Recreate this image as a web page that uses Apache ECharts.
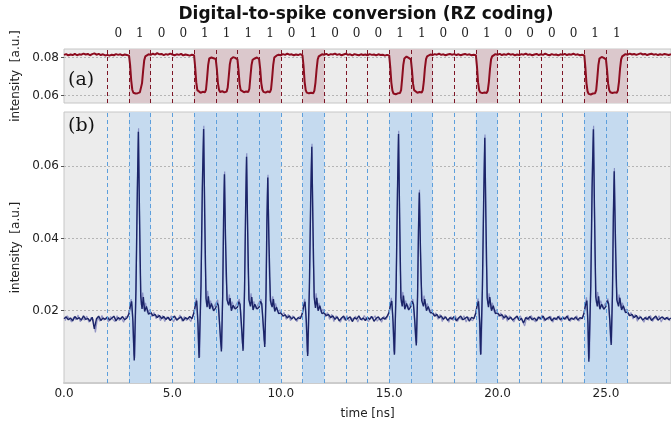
<!DOCTYPE html>
<html>
<head>
<meta charset="utf-8">
<script src="https://cdn.jsdelivr.net/npm/echarts@6/dist/echarts.min.js"></script>
<style>
  html, body { margin: 0; padding: 0; background: #fff; }
  #chart { width: 671px; height: 425px; }
</style>
</head>
<body>
<div id="chart"></div>
<script>
// bit sequence, one bit per 1 ns slot starting at 2 ns
const bits = [0, 1, 0, 0, 1, 1, 1, 1, 0, 1, 0, 0, 0, 1, 1, 0, 0, 1, 0, 0, 0, 0, 1, 1]
const firstSlot = 2

const timeLabels = [0, 5, 10, 15, 20, 25]
const topTicks = [0.06, 0.08]
const bottomTicks = [0.02, 0.04, 0.06]

// (a) optical intensity, RZ input [ns, a.u.]
const redTrace = [
  [0.0, 0.0814], [0.1, 0.0818], [0.2, 0.0811], [0.3, 0.0816], [0.4, 0.0813], [0.5, 0.0819], [0.6, 0.0812], [0.7, 0.0817], [0.8, 0.0815], [0.9, 0.0821],
  [1.0, 0.0816], [1.1, 0.0819], [1.2, 0.0812], [1.3, 0.0818], [1.4, 0.0822], [1.5, 0.0815], [1.6, 0.0819], [1.7, 0.0813], [1.8, 0.0817], [1.9, 0.0811],
  [2.0, 0.0814], [2.1, 0.0810], [2.2, 0.0815], [2.3, 0.0812], [2.4, 0.0818], [2.5, 0.0814], [2.6, 0.0817], [2.7, 0.0811], [2.8, 0.0816], [2.9, 0.0813], [3.0, 0.0810],
  [3.05, 0.0760], [3.1, 0.0680], [3.15, 0.0630], [3.2, 0.0614], [3.3, 0.0610], [3.4, 0.0612], [3.5, 0.0616], [3.55, 0.0625], [3.6, 0.0665], [3.65, 0.0730], [3.7, 0.0785], [3.75, 0.0806], [3.8, 0.0812], [3.9, 0.0817], [4.0, 0.0814],
  [4.1, 0.0820], [4.2, 0.0815], [4.3, 0.0823], [4.4, 0.0817], [4.5, 0.0819], [4.6, 0.0813], [4.7, 0.0818], [4.8, 0.0815], [4.9, 0.0821], [5.0, 0.0816],
  [5.1, 0.0812], [5.2, 0.0817], [5.3, 0.0814], [5.4, 0.0819], [5.5, 0.0811], [5.6, 0.0816], [5.7, 0.0813], [5.8, 0.0810], [5.9, 0.0815], [6.0, 0.0812],
  [6.05, 0.0750], [6.1, 0.0670], [6.15, 0.0628], [6.2, 0.0618], [6.3, 0.0614], [6.4, 0.0619], [6.5, 0.0616], [6.55, 0.0630], [6.6, 0.0690], [6.65, 0.0760], [6.7, 0.0795], [6.8, 0.0800], [6.9, 0.0796], [7.0, 0.0792],
  [7.05, 0.0740], [7.1, 0.0665], [7.15, 0.0630], [7.2, 0.0618], [7.3, 0.0622], [7.4, 0.0616], [7.5, 0.0620], [7.55, 0.0640], [7.6, 0.0700], [7.65, 0.0765], [7.7, 0.0792], [7.8, 0.0802], [7.9, 0.0798], [8.0, 0.0790],
  [8.05, 0.0735], [8.1, 0.0660], [8.15, 0.0628], [8.2, 0.0620], [8.3, 0.0617], [8.4, 0.0621], [8.5, 0.0618], [8.55, 0.0635], [8.6, 0.0700], [8.65, 0.0760], [8.7, 0.0788], [8.8, 0.0795], [8.9, 0.0800], [9.0, 0.0792],
  [9.05, 0.0740], [9.1, 0.0665], [9.15, 0.0630], [9.2, 0.0619], [9.3, 0.0615], [9.4, 0.0621], [9.5, 0.0617], [9.55, 0.0632], [9.6, 0.0690], [9.65, 0.0760], [9.7, 0.0800], [9.8, 0.0810], [9.9, 0.0815], [10.0, 0.0812],
  [10.1, 0.0818], [10.2, 0.0814], [10.3, 0.0820], [10.4, 0.0815], [10.5, 0.0817], [10.6, 0.0812], [10.7, 0.0816], [10.8, 0.0813], [10.9, 0.0818], [11.0, 0.0812],
  [11.05, 0.0755], [11.1, 0.0672], [11.15, 0.0628], [11.2, 0.0615], [11.3, 0.0611], [11.4, 0.0614], [11.5, 0.0612], [11.55, 0.0625], [11.6, 0.0668], [11.65, 0.0735], [11.7, 0.0788], [11.75, 0.0806], [11.8, 0.0813], [11.9, 0.0817], [12.0, 0.0815],
  [12.1, 0.0819], [12.2, 0.0813], [12.3, 0.0818], [12.4, 0.0816], [12.5, 0.0821], [12.6, 0.0814], [12.7, 0.0818], [12.8, 0.0812], [12.9, 0.0816], [13.0, 0.0820],
  [13.1, 0.0814], [13.2, 0.0817], [13.3, 0.0811], [13.4, 0.0818], [13.5, 0.0815], [13.6, 0.0812], [13.7, 0.0817], [13.8, 0.0813], [13.9, 0.0816], [14.0, 0.0812],
  [14.1, 0.0818], [14.2, 0.0814], [14.3, 0.0816], [14.4, 0.0811], [14.5, 0.0817], [14.6, 0.0813], [14.7, 0.0815], [14.8, 0.0810], [14.9, 0.0814], [15.0, 0.0811],
  [15.05, 0.0750], [15.1, 0.0668], [15.15, 0.0625], [15.2, 0.0610], [15.3, 0.0606], [15.4, 0.0611], [15.5, 0.0613], [15.55, 0.0628], [15.6, 0.0690], [15.65, 0.0760], [15.7, 0.0795], [15.8, 0.0805], [15.9, 0.0798], [16.0, 0.0790],
  [16.05, 0.0735], [16.1, 0.0662], [16.15, 0.0628], [16.2, 0.0618], [16.3, 0.0614], [16.4, 0.0618], [16.5, 0.0615], [16.55, 0.0628], [16.6, 0.0675], [16.65, 0.0745], [16.7, 0.0792], [16.75, 0.0806], [16.8, 0.0812], [16.9, 0.0816], [17.0, 0.0813],
  [17.1, 0.0818], [17.2, 0.0815], [17.3, 0.0820], [17.4, 0.0814], [17.5, 0.0817], [17.6, 0.0812], [17.7, 0.0816], [17.8, 0.0819], [17.9, 0.0815], [18.0, 0.0818],
  [18.1, 0.0813], [18.2, 0.0817], [18.3, 0.0812], [18.4, 0.0816], [18.5, 0.0819], [18.6, 0.0814], [18.7, 0.0817], [18.8, 0.0812], [18.9, 0.0815], [19.0, 0.0812],
  [19.05, 0.0752], [19.1, 0.0670], [19.15, 0.0628], [19.2, 0.0616], [19.3, 0.0612], [19.4, 0.0615], [19.5, 0.0613], [19.55, 0.0626], [19.6, 0.0672], [19.65, 0.0740], [19.7, 0.0790], [19.75, 0.0806], [19.8, 0.0812], [19.9, 0.0818], [20.0, 0.0815],
  [20.1, 0.0819], [20.2, 0.0813], [20.3, 0.0817], [20.4, 0.0814], [20.5, 0.0820], [20.6, 0.0815], [20.7, 0.0818], [20.8, 0.0812], [20.9, 0.0816], [21.0, 0.0813],
  [21.1, 0.0818], [21.2, 0.0815], [21.3, 0.0821], [21.4, 0.0814], [21.5, 0.0817], [21.6, 0.0812], [21.7, 0.0816], [21.8, 0.0819], [21.9, 0.0813], [22.0, 0.0817],
  [22.1, 0.0814], [22.2, 0.0820], [22.3, 0.0815], [22.4, 0.0812], [22.5, 0.0818], [22.6, 0.0814], [22.7, 0.0816], [22.8, 0.0811], [22.9, 0.0817], [23.0, 0.0814],
  [23.1, 0.0819], [23.2, 0.0813], [23.3, 0.0817], [23.4, 0.0815], [23.5, 0.0820], [23.6, 0.0814], [23.7, 0.0817], [23.8, 0.0812], [23.9, 0.0815], [24.0, 0.0811],
  [24.05, 0.0748], [24.1, 0.0665], [24.15, 0.0622], [24.2, 0.0608], [24.3, 0.0605], [24.4, 0.0610], [24.5, 0.0612], [24.55, 0.0628], [24.6, 0.0690], [24.65, 0.0760], [24.7, 0.0795], [24.8, 0.0803], [24.9, 0.0798], [25.0, 0.0790],
  [25.05, 0.0735], [25.1, 0.0662], [25.15, 0.0628], [25.2, 0.0617], [25.3, 0.0613], [25.4, 0.0616], [25.5, 0.0614], [25.55, 0.0627], [25.6, 0.0672], [25.65, 0.0742], [25.7, 0.0790], [25.75, 0.0806], [25.8, 0.0813], [25.9, 0.0818], [26.0, 0.0815],
  [26.1, 0.0821], [26.2, 0.0816], [26.3, 0.0819], [26.4, 0.0814], [26.5, 0.0818], [26.6, 0.0822], [26.7, 0.0816], [26.8, 0.0819], [26.9, 0.0813], [27.0, 0.0817],
  [27.1, 0.0820], [27.2, 0.0815], [27.3, 0.0818], [27.4, 0.0813], [27.5, 0.0817], [27.6, 0.0814], [27.7, 0.0819], [27.8, 0.0816], [27.9, 0.0813], [28.0, 0.0817]
]

// (b) spike output, main trace [ns, a.u.]
const blueTrace = [
  [0.0, 0.0178], [0.1, 0.0183], [0.2, 0.0175], [0.3, 0.0180], [0.4, 0.0172], [0.5, 0.0184], [0.6, 0.0177], [0.7, 0.0181], [0.8, 0.0174], [0.9, 0.0186],
  [1.0, 0.0176], [1.1, 0.0179], [1.2, 0.0171], [1.3, 0.0182], [1.4, 0.0150], [1.5, 0.0178], [1.6, 0.0185], [1.7, 0.0173], [1.8, 0.0180], [1.9, 0.0176],
  [2.0, 0.0183], [2.1, 0.0174], [2.2, 0.0179], [2.3, 0.0185], [2.4, 0.0172], [2.5, 0.0181], [2.6, 0.0177], [2.7, 0.0184], [2.8, 0.0175], [2.9, 0.0180],
  [3.0, 0.0192], [3.05, 0.0210], [3.12, 0.0226], [3.18, 0.0170], [3.24, 0.0062], [3.32, 0.0260], [3.38, 0.0520], [3.43, 0.0695], [3.48, 0.0480], [3.54, 0.0240], [3.6, 0.0205], [3.66, 0.0238], [3.72, 0.0198], [3.8, 0.0212], [3.9, 0.0190],
  [4.0, 0.0196], [4.1, 0.0186], [4.2, 0.0190], [4.3, 0.0181], [4.4, 0.0187], [4.5, 0.0178], [4.6, 0.0184], [4.7, 0.0176], [4.8, 0.0182], [4.9, 0.0173],
  [5.0, 0.0180], [5.1, 0.0185], [5.2, 0.0174], [5.3, 0.0179], [5.4, 0.0183], [5.5, 0.0172], [5.6, 0.0181], [5.7, 0.0177], [5.8, 0.0184], [5.9, 0.0178],
  [6.0, 0.0195], [6.05, 0.0212], [6.12, 0.0228], [6.18, 0.0165], [6.23, 0.0069], [6.32, 0.0270], [6.38, 0.0540], [6.44, 0.0703], [6.49, 0.0470], [6.55, 0.0235], [6.6, 0.0210], [6.66, 0.0240], [6.72, 0.0205], [6.8, 0.0220], [6.9, 0.0200],
  [7.0, 0.0208], [7.06, 0.0222], [7.12, 0.0215], [7.18, 0.0160], [7.26, 0.0087], [7.32, 0.0240], [7.36, 0.0450], [7.40, 0.0578], [7.45, 0.0400], [7.52, 0.0230], [7.6, 0.0215], [7.66, 0.0235], [7.72, 0.0200], [7.8, 0.0215], [7.9, 0.0205],
  [8.0, 0.0210], [8.06, 0.0225], [8.12, 0.0218], [8.18, 0.0165], [8.26, 0.0089], [8.33, 0.0260], [8.38, 0.0490], [8.42, 0.0626], [8.47, 0.0430], [8.53, 0.0230], [8.6, 0.0212], [8.66, 0.0238], [8.72, 0.0202], [8.8, 0.0218], [8.9, 0.0205],
  [9.0, 0.0210], [9.06, 0.0226], [9.12, 0.0220], [9.18, 0.0170], [9.26, 0.0100], [9.32, 0.0250], [9.36, 0.0450], [9.40, 0.0569], [9.45, 0.0400], [9.52, 0.0228], [9.6, 0.0210], [9.66, 0.0232], [9.72, 0.0198], [9.8, 0.0210], [9.9, 0.0192],
  [10.0, 0.0194], [10.1, 0.0185], [10.2, 0.0189], [10.3, 0.0180], [10.4, 0.0186], [10.5, 0.0177], [10.6, 0.0183], [10.7, 0.0174], [10.8, 0.0181], [10.9, 0.0178],
  [11.0, 0.0194], [11.05, 0.0211], [11.12, 0.0225], [11.18, 0.0168], [11.24, 0.0075], [11.32, 0.0265], [11.38, 0.0510], [11.43, 0.0654], [11.48, 0.0450], [11.54, 0.0238], [11.6, 0.0208], [11.66, 0.0236], [11.72, 0.0200], [11.8, 0.0214], [11.9, 0.0192],
  [12.0, 0.0195], [12.1, 0.0186], [12.2, 0.0190], [12.3, 0.0181], [12.4, 0.0186], [12.5, 0.0176], [12.6, 0.0183], [12.7, 0.0172], [12.8, 0.0180], [12.9, 0.0185],
  [13.0, 0.0174], [13.1, 0.0179], [13.2, 0.0183], [13.3, 0.0170], [13.4, 0.0181], [13.5, 0.0177], [13.6, 0.0186], [13.7, 0.0175], [13.8, 0.0180], [13.9, 0.0173],
  [14.0, 0.0182], [14.1, 0.0176], [14.2, 0.0184], [14.3, 0.0171], [14.4, 0.0179], [14.5, 0.0183], [14.6, 0.0174], [14.7, 0.0181], [14.8, 0.0177], [14.9, 0.0184],
  [15.0, 0.0196], [15.05, 0.0213], [15.12, 0.0227], [15.18, 0.0168], [15.24, 0.0078], [15.32, 0.0262], [15.38, 0.0520], [15.43, 0.0689], [15.48, 0.0470], [15.54, 0.0236], [15.6, 0.0212], [15.66, 0.0242], [15.72, 0.0204], [15.8, 0.0220], [15.9, 0.0202],
  [16.0, 0.0212], [16.06, 0.0226], [16.12, 0.0218], [16.18, 0.0172], [16.25, 0.0104], [16.31, 0.0240], [16.35, 0.0420], [16.39, 0.0527], [16.44, 0.0380], [16.5, 0.0228], [16.58, 0.0212], [16.64, 0.0232], [16.72, 0.0200], [16.8, 0.0212], [16.9, 0.0194],
  [17.0, 0.0195], [17.1, 0.0185], [17.2, 0.0190], [17.3, 0.0180], [17.4, 0.0186], [17.5, 0.0176], [17.6, 0.0183], [17.7, 0.0173], [17.8, 0.0181], [17.9, 0.0177],
  [18.0, 0.0184], [18.1, 0.0172], [18.2, 0.0180], [18.3, 0.0185], [18.4, 0.0175], [18.5, 0.0179], [18.6, 0.0183], [18.7, 0.0171], [18.8, 0.0182], [18.9, 0.0178],
  [19.0, 0.0194], [19.05, 0.0212], [19.12, 0.0226], [19.18, 0.0166], [19.22, 0.0078], [19.3, 0.0262], [19.36, 0.0510], [19.41, 0.0679], [19.46, 0.0460], [19.52, 0.0236], [19.58, 0.0210], [19.64, 0.0238], [19.72, 0.0200], [19.8, 0.0214], [19.9, 0.0192],
  [20.0, 0.0194], [20.1, 0.0186], [20.2, 0.0189], [20.3, 0.0180], [20.4, 0.0186], [20.5, 0.0176], [20.6, 0.0182], [20.7, 0.0174], [20.8, 0.0180], [20.9, 0.0185],
  [21.0, 0.0173], [21.1, 0.0179], [21.2, 0.0166], [21.3, 0.0181], [21.4, 0.0177], [21.5, 0.0184], [21.6, 0.0175], [21.7, 0.0180], [21.8, 0.0172], [21.9, 0.0183],
  [22.0, 0.0177], [22.1, 0.0185], [22.2, 0.0174], [22.3, 0.0179], [22.4, 0.0183], [22.5, 0.0172], [22.6, 0.0180], [22.7, 0.0176], [22.8, 0.0184], [22.9, 0.0175],
  [23.0, 0.0181], [23.1, 0.0177], [23.2, 0.0185], [23.3, 0.0173], [23.4, 0.0180], [23.5, 0.0176], [23.6, 0.0183], [23.7, 0.0174], [23.8, 0.0181], [23.9, 0.0178],
  [24.0, 0.0196], [24.05, 0.0214], [24.12, 0.0228], [24.17, 0.0165], [24.21, 0.0059], [24.3, 0.0270], [24.36, 0.0540], [24.42, 0.0702], [24.47, 0.0480], [24.53, 0.0238], [24.6, 0.0212], [24.66, 0.0240], [24.72, 0.0204], [24.8, 0.0218], [24.9, 0.0204],
  [25.0, 0.0212], [25.06, 0.0228], [25.12, 0.0220], [25.18, 0.0172], [25.24, 0.0105], [25.3, 0.0245], [25.34, 0.0460], [25.38, 0.0586], [25.43, 0.0420], [25.5, 0.0230], [25.58, 0.0212], [25.64, 0.0236], [25.72, 0.0202], [25.8, 0.0214], [25.9, 0.0195],
  [26.0, 0.0196], [26.1, 0.0186], [26.2, 0.0190], [26.3, 0.0181], [26.4, 0.0187], [26.5, 0.0177], [26.6, 0.0183], [26.7, 0.0174], [26.8, 0.0181], [26.9, 0.0176],
  [27.0, 0.0184], [27.1, 0.0173], [27.2, 0.0180], [27.3, 0.0185], [27.4, 0.0174], [27.5, 0.0179], [27.6, 0.0183], [27.7, 0.0176], [27.8, 0.0181], [27.9, 0.0175], [28.0, 0.0180]
]

// (b) second, fainter acquisition
const blueTraceLight = [
  [0.05, 0.0172], [0.15, 0.0186], [0.25, 0.0178], [0.35, 0.0169], [0.45, 0.0183], [0.55, 0.0175], [0.65, 0.0188], [0.75, 0.0170], [0.85, 0.0180], [0.95, 0.0174],
  [1.05, 0.0185], [1.15, 0.0168], [1.25, 0.0181], [1.35, 0.0176], [1.45, 0.0140], [1.55, 0.0183], [1.65, 0.0171], [1.75, 0.0187], [1.85, 0.0174], [1.95, 0.0181],
  [2.05, 0.0169], [2.15, 0.0184], [2.25, 0.0176], [2.35, 0.0170], [2.45, 0.0186], [2.55, 0.0173], [2.65, 0.0180], [2.75, 0.0168], [2.85, 0.0184], [2.95, 0.0182],
  [3.03, 0.0205], [3.1, 0.0232], [3.16, 0.0190], [3.22, 0.0080], [3.27, 0.0070], [3.34, 0.0330], [3.4, 0.0600], [3.44, 0.0705], [3.5, 0.0360], [3.56, 0.0215], [3.63, 0.0250], [3.69, 0.0205], [3.76, 0.0222], [3.85, 0.0195], [3.95, 0.0203],
  [4.05, 0.0184], [4.15, 0.0195], [4.25, 0.0178], [4.35, 0.0190], [4.45, 0.0172], [4.55, 0.0187], [4.65, 0.0170], [4.75, 0.0183], [4.85, 0.0176], [4.95, 0.0186],
  [5.05, 0.0169], [5.15, 0.0181], [5.25, 0.0175], [5.35, 0.0188], [5.45, 0.0171], [5.55, 0.0184], [5.65, 0.0173], [5.75, 0.0180], [5.85, 0.0170], [5.95, 0.0186],
  [6.03, 0.0208], [6.1, 0.0235], [6.16, 0.0188], [6.21, 0.0085], [6.26, 0.0072], [6.34, 0.0340], [6.41, 0.0620], [6.45, 0.0712], [6.51, 0.0350], [6.57, 0.0220], [6.63, 0.0255], [6.69, 0.0210], [6.76, 0.0228], [6.85, 0.0205], [6.95, 0.0215],
  [7.03, 0.0218], [7.09, 0.0230], [7.15, 0.0195], [7.22, 0.0110], [7.28, 0.0095], [7.34, 0.0330], [7.38, 0.0520], [7.41, 0.0585], [7.47, 0.0300], [7.55, 0.0218], [7.63, 0.0245], [7.69, 0.0208], [7.76, 0.0225], [7.85, 0.0205], [7.95, 0.0218],
  [8.03, 0.0222], [8.09, 0.0232], [8.15, 0.0198], [8.22, 0.0112], [8.28, 0.0095], [8.35, 0.0360], [8.4, 0.0570], [8.43, 0.0636], [8.49, 0.0320], [8.56, 0.0220], [8.63, 0.0248], [8.69, 0.0210], [8.76, 0.0226], [8.85, 0.0206], [8.95, 0.0218],
  [9.03, 0.0222], [9.09, 0.0232], [9.15, 0.0200], [9.22, 0.0120], [9.28, 0.0108], [9.34, 0.0340], [9.38, 0.0520], [9.41, 0.0576], [9.47, 0.0300], [9.55, 0.0215], [9.63, 0.0240], [9.69, 0.0205], [9.76, 0.0220], [9.85, 0.0198], [9.95, 0.0202],
  [10.05, 0.0188], [10.15, 0.0195], [10.25, 0.0176], [10.35, 0.0190], [10.45, 0.0172], [10.55, 0.0186], [10.65, 0.0179], [10.75, 0.0170], [10.85, 0.0184], [10.95, 0.0183],
  [11.03, 0.0206], [11.1, 0.0233], [11.16, 0.0190], [11.21, 0.0088], [11.26, 0.0080], [11.34, 0.0330], [11.4, 0.0590], [11.44, 0.0662], [11.5, 0.0340], [11.56, 0.0218], [11.63, 0.0248], [11.69, 0.0205], [11.76, 0.0222], [11.85, 0.0196], [11.95, 0.0204],
  [12.05, 0.0183], [12.15, 0.0195], [12.25, 0.0176], [12.35, 0.0190], [12.45, 0.0170], [12.55, 0.0186], [12.65, 0.0178], [12.75, 0.0168], [12.85, 0.0183], [12.95, 0.0174],
  [13.05, 0.0187], [13.15, 0.0171], [13.25, 0.0180], [13.35, 0.0176], [13.45, 0.0185], [13.55, 0.0169], [13.65, 0.0182], [13.75, 0.0173], [13.85, 0.0187], [13.95, 0.0176],
  [14.05, 0.0170], [14.15, 0.0184], [14.25, 0.0178], [14.35, 0.0186], [14.45, 0.0171], [14.55, 0.0180], [14.65, 0.0168], [14.75, 0.0185], [14.85, 0.0175], [14.95, 0.0186],
  [15.03, 0.0208], [15.1, 0.0236], [15.16, 0.0190], [15.21, 0.0090], [15.26, 0.0082], [15.34, 0.0340], [15.4, 0.0600], [15.44, 0.0698], [15.5, 0.0350], [15.56, 0.0222], [15.63, 0.0252], [15.69, 0.0210], [15.76, 0.0228], [15.85, 0.0206], [15.95, 0.0218],
  [16.03, 0.0222], [16.09, 0.0232], [16.15, 0.0198], [16.22, 0.0118], [16.27, 0.0110], [16.33, 0.0330], [16.37, 0.0480], [16.4, 0.0535], [16.46, 0.0290], [16.54, 0.0220], [16.61, 0.0242], [16.68, 0.0208], [16.76, 0.0220], [16.85, 0.0198], [16.95, 0.0203],
  [17.05, 0.0186], [17.15, 0.0194], [17.25, 0.0176], [17.35, 0.0190], [17.45, 0.0170], [17.55, 0.0185], [17.65, 0.0178], [17.75, 0.0168], [17.85, 0.0184], [17.95, 0.0173],
  [18.05, 0.0187], [18.15, 0.0170], [18.25, 0.0181], [18.35, 0.0175], [18.45, 0.0186], [18.55, 0.0169], [18.65, 0.0182], [18.75, 0.0177], [18.85, 0.0172], [18.95, 0.0184],
  [19.03, 0.0207], [19.1, 0.0234], [19.15, 0.0190], [19.2, 0.0088], [19.25, 0.0080], [19.32, 0.0330], [19.38, 0.0590], [19.42, 0.0688], [19.48, 0.0340], [19.54, 0.0218], [19.61, 0.0248], [19.68, 0.0206], [19.76, 0.0222], [19.85, 0.0196], [19.95, 0.0203],
  [20.05, 0.0184], [20.15, 0.0194], [20.25, 0.0175], [20.35, 0.0190], [20.45, 0.0171], [20.55, 0.0186], [20.65, 0.0178], [20.75, 0.0169], [20.85, 0.0183], [20.95, 0.0176],
  [21.05, 0.0186], [21.15, 0.0170], [21.25, 0.0158], [21.35, 0.0184], [21.45, 0.0173], [21.55, 0.0187], [21.65, 0.0175], [21.75, 0.0169], [21.85, 0.0183], [21.95, 0.0176],
  [22.05, 0.0188], [22.15, 0.0171], [22.25, 0.0180], [22.35, 0.0175], [22.45, 0.0185], [22.55, 0.0168], [22.65, 0.0182], [22.75, 0.0174], [22.85, 0.0186], [22.95, 0.0170],
  [23.05, 0.0183], [23.15, 0.0176], [23.25, 0.0188], [23.35, 0.0170], [23.45, 0.0181], [23.55, 0.0174], [23.65, 0.0186], [23.75, 0.0171], [23.85, 0.0180], [23.95, 0.0184],
  [24.03, 0.0209], [24.1, 0.0237], [24.15, 0.0188], [24.19, 0.0075], [24.24, 0.0068], [24.32, 0.0350], [24.38, 0.0620], [24.43, 0.0712], [24.49, 0.0360], [24.55, 0.0222], [24.62, 0.0252], [24.68, 0.0210], [24.76, 0.0228], [24.85, 0.0208], [24.95, 0.0218],
  [25.03, 0.0224], [25.09, 0.0234], [25.15, 0.0200], [25.21, 0.0118], [25.26, 0.0110], [25.32, 0.0340], [25.36, 0.0530], [25.39, 0.0595], [25.45, 0.0300], [25.53, 0.0220], [25.61, 0.0245], [25.68, 0.0208], [25.76, 0.0222], [25.85, 0.0200], [25.95, 0.0204],
  [26.05, 0.0186], [26.15, 0.0195], [26.25, 0.0177], [26.35, 0.0190], [26.45, 0.0171], [26.55, 0.0186], [26.65, 0.0178], [26.75, 0.0168], [26.85, 0.0184], [26.95, 0.0174],
  [27.05, 0.0187], [27.15, 0.0170], [27.25, 0.0181], [27.35, 0.0176], [27.45, 0.0186], [27.55, 0.0169], [27.65, 0.0182], [27.75, 0.0175], [27.85, 0.0183], [27.95, 0.0172]
]

const FONT = 'DejaVu Sans'
const SERIF = 'DejaVu Serif'

// slot boundaries and '1' slots, derived from the bit list
const boundaries = bits.map((b, i) => firstSlot + i).concat([firstSlot + bits.length])
const oneSlots = []
bits.forEach((b, i) => { if (b === 1) oneSlots.push([{ xAxis: firstSlot + i }, { xAxis: firstSlot + i + 1 }]) })
const bitCenters = bits.map((b, i) => firstSlot + i + 0.5)

// shaded '1' slots + dashed slot boundaries, drawn under the traces
function markerSeries(axisIdx, areaColor, lineColor) {
  return {
    type: 'line',
    xAxisIndex: axisIdx,
    yAxisIndex: axisIdx,
    data: [],
    z: 1,
    silent: true,
    markArea: {
      silent: true,
      itemStyle: { color: areaColor },
      data: oneSlots
    },
    markLine: {
      silent: true,
      symbol: 'none',
      label: { show: false },
      lineStyle: { color: lineColor, type: [4, 3], width: 1 },
      data: boundaries.map((x) => ({ xAxis: x }))
    }
  }
}

const chart = echarts.init(document.getElementById('chart'), null, { renderer: 'canvas' })

chart.setOption({
  animation: false,
  backgroundColor: '#fff',
  title: {
    text: 'Digital-to-spike conversion (RZ coding)',
    left: 361,
    textAlign: 'center',
    top: 1,
    textStyle: { fontFamily: FONT, fontSize: 17, fontWeight: 'bold', color: '#111' }
  },
  graphic: [
    { type: 'text', left: 68, top: 71, z: 10, style: { text: '(a)', fontFamily: SERIF, fontSize: 19, fill: '#111' } },
    { type: 'text', left: 68, top: 117, z: 10, style: { text: '(b)', fontFamily: SERIF, fontSize: 19, fill: '#111' } }
  ],
  grid: [
    { left: 64, width: 613, top: 49, height: 54, show: true, backgroundColor: '#ececec', borderColor: '#c6c6c6', borderWidth: 1 },
    { left: 64, width: 613, top: 112, height: 276, show: true, backgroundColor: '#ececec', borderColor: '#c6c6c6', borderWidth: 1 }
  ],
  xAxis: [
    {
      type: 'value', gridIndex: 0, min: 0, max: 28, position: 'top',
      axisLine: { show: false },
      axisTick: { show: false },
      splitLine: { show: false },
      axisLabel: {
        customValues: bitCenters,
        margin: 9,
        fontFamily: SERIF,
        fontSize: 12,
        color: '#222',
        formatter: (v) => String(bits[Math.round(v - firstSlot - 0.5)])
      }
    },
    {
      type: 'value', gridIndex: 1, min: 0, max: 28,
      name: 'time [ns]', nameLocation: 'middle', nameGap: 25,
      nameTextStyle: { fontFamily: FONT, fontSize: 12, color: '#222' },
      axisLine: { show: true, lineStyle: { color: '#cccccc', width: 2 } },
      axisTick: { show: false },
      splitLine: { show: false },
      axisLabel: {
        customValues: timeLabels,
        margin: 5,
        fontFamily: FONT,
        fontSize: 12,
        color: '#222',
        formatter: (v) => v.toFixed(1)
      }
    }
  ],
  yAxis: [
    {
      type: 'value', gridIndex: 0, min: 0.056, max: 0.0845,
      name: 'intensity  [a.u.]', nameLocation: 'middle', nameGap: 38,
      nameTextStyle: { fontFamily: FONT, fontSize: 12, color: '#222' },
      axisLine: { show: false },
      axisTick: { show: true, customValues: topTicks, length: 3, inside: false, lineStyle: { color: '#555' } },
      splitLine: { show: true, lineStyle: { color: '#b5b5b5', type: [2, 2], width: 1 } },
      axisLabel: { customValues: topTicks, margin: 5, fontFamily: FONT, fontSize: 12, color: '#222', formatter: (v) => v.toFixed(2) }
    },
    {
      type: 'value', gridIndex: 1, min: 0, max: 0.075,
      name: 'intensity  [a.u.]', nameLocation: 'middle', nameGap: 38,
      nameTextStyle: { fontFamily: FONT, fontSize: 12, color: '#222' },
      axisLine: { show: false },
      axisTick: { show: true, customValues: bottomTicks, length: 3, inside: false, lineStyle: { color: '#555' } },
      splitLine: { show: true, lineStyle: { color: '#b5b5b5', type: [2, 2], width: 1 } },
      axisLabel: { customValues: bottomTicks, margin: 5, fontFamily: FONT, fontSize: 12, color: '#222', formatter: (v) => v.toFixed(2) }
    }
  ],
  series: [
    markerSeries(0, '#dbc8cc', '#7d1526'),
    markerSeries(1, '#c5daef', '#5d9fdc'),
    {
      name: 'input',
      type: 'line',
      xAxisIndex: 0,
      yAxisIndex: 0,
      z: 3,
      showSymbol: false,
      silent: true,
      data: redTrace,
      lineStyle: { color: '#8d0c1f', width: 2 }
    },
    {
      name: 'spikes (2)',
      type: 'line',
      xAxisIndex: 1,
      yAxisIndex: 1,
      z: 3,
      showSymbol: false,
      silent: true,
      data: blueTraceLight,
      lineStyle: { color: '#6e70b4', width: 1.2, opacity: 0.7 }
    },
    {
      name: 'spikes',
      type: 'line',
      xAxisIndex: 1,
      yAxisIndex: 1,
      z: 4,
      showSymbol: false,
      silent: true,
      data: blueTrace,
      lineStyle: { color: '#1b2468', width: 1.4 }
    }
  ]
})
</script>
</body>
</html>
